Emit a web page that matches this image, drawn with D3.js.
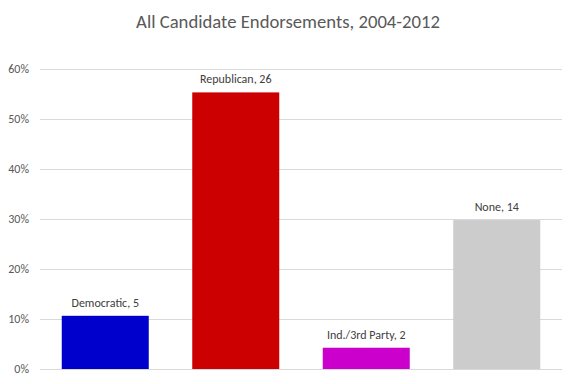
<!DOCTYPE html>
<html>
<head>
<meta charset="utf-8">
<script src="https://cdn.jsdelivr.net/npm/d3@7"></script>
<style>
  body { margin: 0; background: #fff; }
  svg { display: block; font-family: Carlito, Calibri, "Open Sans", sans-serif; }
</style>
</head>
<body>
<div id="chart"></div>
<script>
var categories = ["Democratic", "Republican", "Ind./3rd Party", "None"];
var counts = [5, 26, 2, 14];
var colors = ["#0000cc", "#cc0000", "#cc00cc", "#cccccc"];
var yTicks = [0, 0.1, 0.2, 0.3, 0.4, 0.5, 0.6];

var width = 576, height = 384;
var margin = {top: 69, right: 14, bottom: 15, left: 40};

var total = d3.sum(counts);
var data = categories.map(function (c, i) {
    return {name: c, count: counts[i], share: counts[i] / total, color: colors[i]};
});

var svg = d3.select("#chart").append("svg")
    .attr("width", width)
    .attr("height", height);

var x = d3.scaleBand()
    .domain(categories)
    .range([margin.left, width - margin.right])
    .paddingInner(1 / 3)
    .paddingOuter(1 / 6);

var y = d3.scaleLinear()
    .domain([0, 0.6])
    .range([height - margin.bottom, margin.top]);

// title
svg.append("text")
    .attr("x", width / 2)
    .attr("y", 28)
    .attr("text-anchor", "middle")
    .attr("font-size", 18.7)
    .attr("fill", "#595959")
    .text("All Candidate Endorsements, 2004-2012");

// gridlines + y labels
var yAxis = d3.axisLeft(y)
    .tickValues(yTicks)
    .tickFormat(d3.format(".0%"))
    .tickSize(-(width - margin.left - margin.right))
    .tickPadding(11);

var gy = svg.append("g")
    .attr("transform", "translate(" + margin.left + ",0)")
    .call(yAxis);
gy.select(".domain").remove();
gy.selectAll(".tick line").attr("stroke", "#d9d9d9");
gy.selectAll(".tick text")
    .attr("fill", "#595959")
    .attr("font-size", 12)
    .attr("font-family", "Carlito, Calibri, 'Open Sans', sans-serif");

// bars
svg.selectAll(".bar")
    .data(data)
    .enter()
    .append("rect")
    .attr("class", "bar")
    .attr("x", function (d) {return x(d.name);})
    .attr("y", function (d) {return y(d.share);})
    .attr("width", x.bandwidth())
    .attr("height", function (d) {return y(0) - y(d.share);})
    .attr("fill", function (d) {return d.color;});

// data labels
svg.selectAll(".lbl")
    .data(data)
    .enter()
    .append("text")
    .attr("class", "lbl")
    .attr("x", function (d) {return x(d.name) + x.bandwidth() / 2;})
    .attr("y", function (d) {return y(d.share) - 9;})
    .attr("text-anchor", "middle")
    .attr("font-size", 12)
    .attr("fill", "#404040")
    .text(function (d) {return d.name + ", " + d.count;});
</script>
</body>
</html>
